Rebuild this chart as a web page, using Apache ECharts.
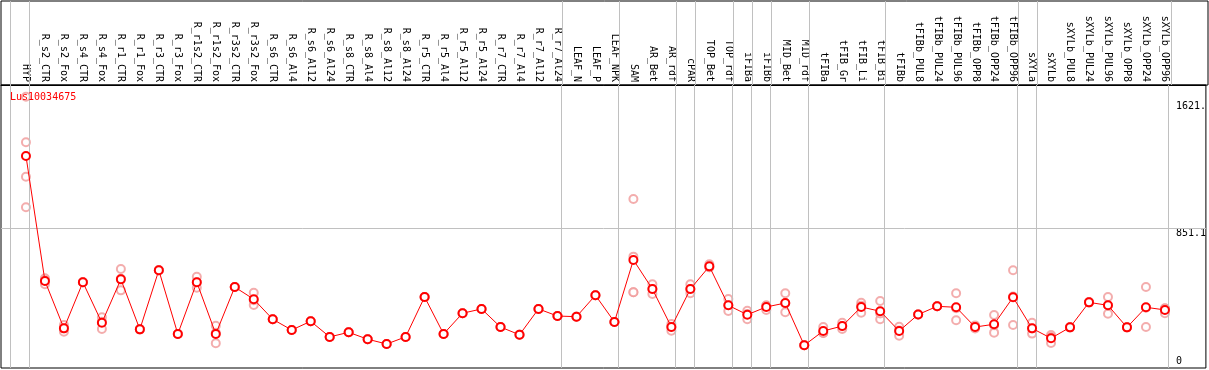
<!DOCTYPE html>
<html>
<head>
<meta charset="utf-8">
<script src="https://cdn.jsdelivr.net/npm/echarts@6/dist/echarts.min.js"></script>
<style>
html,body{margin:0;padding:0;background:#fff;}
#chart{width:1209px;height:370px;}
</style>
</head>
<body>
<div id="chart"></div>
<script>
const geneName = 'Lus10034675';
const categories = ['HYP','R_s2_CTR','R_s2_Fox','R_s4_CTR','R_s4_Fox','R_r1_CTR','R_r1_Fox','R_r3_CTR','R_r3_Fox','R_r1s2_CTR','R_r1s2_Fox','R_r3s2_CTR','R_r3s2_Fox','R_s6_CTR','R_s6_Al4','R_s6_Al12','R_s6_Al24','R_s8_CTR','R_s8_Al4','R_s8_Al12','R_s8_Al24','R_r5_CTR','R_r5_Al4','R_r5_Al12','R_r5_Al24','R_r7_CTR','R_r7_Al4','R_r7_Al12','R_r7_Al24','LEAF_N','LEAF_P','LEAF_NPK','SAM','AR_Bet','AR_rdf','cPAR','TOP_Bet','TOP_rdf','iFIBa','iFIBb','MID_Bet','MID_rdf','tFIBa','tFIB_Gr','tFIB_Li','tFIB_Bi','tFIBb','tFIBb_PUL8','tFIBb_PUL24','tFIBb_PUL96','tFIBb_OPP8','tFIBb_OPP24','tFIBb_OPP96','sXYLa','sXYLb','sXYLb_PUL8','sXYLb_PUL24','sXYLb_PUL96','sXYLb_OPP8','sXYLb_OPP24','sXYLb_OPP96'];
const meanValues = [1289,529,241,521,275,539,235,594,207,521,207,492,418,296,231,284,189,217,175,146,189,432,207,333,359,249,202,359,316,312,442,280,657,480,249,480,618,381,324,371,395,138,225,255,371,345,225,325,375,369,249,266,430,241,181,247,399,381,247,369,353];
const rep1 = [1649,545,261,521,308,602,235,594,207,555,257,492,458,296,231,284,189,217,175,146,189,432,207,333,359,249,202,359,316,312,442,280,1027,509,268,509,630,420,348,353,454,138,249,275,397,407,251,325,375,454,259,322,594,275,201,247,399,432,247,492,363];
const rep2 = [1372,509,221,521,237,472,235,594,207,488,150,492,383,296,231,284,189,217,175,146,189,432,207,333,359,249,202,359,316,312,442,280,677,450,227,454,612,347,296,380,339,138,213,237,336,296,196,325,375,290,240,215,261,209,152,247,399,330,247,249,333];
const rep3 = [1163,533,241,521,281,543,235,594,207,521,214,492,412,296,231,284,189,217,175,146,189,432,207,333,359,249,202,359,316,312,442,280,460,480,249,480,612,381,328,380,393,138,213,254,379,331,228,325,375,363,249,260,434,240,189,247,399,382,247,366,362];
const rep4 = [977,null,null,null,null,null,null,null,null,null,null,null,null,null,null,null,null,null,null,null,null,null,null,null,null,null,null,null,null,null,null,null,460,null,null,null,null,null,null,null,null,null,null,null,null,null,null,null,null,null,null,null,null,null,null,null,null,null,null,null,null];
const yTickValues = [851.1, 1621];
const yTickLabels = ['851.1', '1621.'];
const yZeroLabel = '0';
const gridLineValue = 851.1;
const groupStarts = [0,1,29,32,35,36,38,39,40,42,46,53,54,61];

const MONO = 'DejaVu Sans Mono';
const xMin = -1.3147, xMax = 62.158;
const yMax = 1720.5;

function pairs(arr){ return arr.map((v,i)=> v==null ? null : [i, v]).filter(d=>d); }

const sepLines = groupStarts.map(k => ({ xAxis: k - 0.805 }));

const repSeries = [rep1, rep2, rep3, rep4].map(r => ({
  type: 'scatter',
  data: pairs(r),
  symbol: 'emptyCircle',
  symbolSize: 8,
  itemStyle: { color: '#f09898', borderColor: '#f09898', borderWidth: 1.2 },
  z: 3,
  silent: true
}));

const chart = echarts.init(document.getElementById('chart'), null, {renderer: 'canvas'});
chart.setOption({
  animation: false,
  backgroundColor: '#ffffff',
  title: {
    text: geneName, left: 10, top: 92, padding: 0,
    textStyle: { color: '#ff0000', fontSize: 10, fontWeight: 'normal', fontFamily: MONO }
  },
  grid: [
    { left: 1, right: 1, top: 85, bottom: 2, show: true, borderColor: '#000', borderWidth: 1 },
    { left: 1, right: 1, top: 1, height: 84, show: true, borderColor: '#000', borderWidth: 1 }
  ],
  xAxis: [{
    gridIndex: 0,
    type: 'value', min: xMin, max: xMax, position: 'top',
    axisLine: { show: true, onZero: false, lineStyle: { color: '#000', width: 1 } },
    axisTick: { show: false }, splitLine: { show: false },
    axisLabel: {
      customValues: categories.map((c,i)=>i),
      formatter: v => categories[Math.round(v)],
      rotate: 90, margin: 3,
      color: '#000', fontSize: 10, fontFamily: MONO
    }
  }, {
    gridIndex: 1,
    type: 'value', min: xMin, max: xMax, show: false
  }],
  yAxis: [{
    gridIndex: 0,
    type: 'value', min: 0, max: yMax, position: 'right',
    axisLine: { show: false }, axisTick: { show: false }, splitLine: { show: false },
    axisLabel: {
      inside: true, margin: 30, align: 'left', verticalAlign: 'top',
      customValues: yTickValues,
      formatter: v => yTickLabels[yTickValues.indexOf(v)],
      color: '#000', fontSize: 10, fontFamily: MONO
    }
  }, {
    gridIndex: 0,
    type: 'value', min: 0, max: yMax, position: 'right',
    axisLine: { show: false }, axisTick: { show: false }, splitLine: { show: false },
    axisLabel: {
      inside: true, margin: 30, align: 'left', verticalAlign: 'bottom', padding: [0,0,2,0],
      customValues: [0],
      formatter: () => yZeroLabel,
      color: '#000', fontSize: 10, fontFamily: MONO
    }
  }, {
    gridIndex: 1, type: 'value', min: 0, max: 1, show: false
  }],
  series: [
    {
      type: 'line', data: [], silent: true, xAxisIndex: 0, yAxisIndex: 0,
      markLine: {
        silent: true, symbol: 'none', label: { show: false },
        lineStyle: { color: '#c0c0c0', type: 'solid', width: 1 },
        data: sepLines.concat([{ yAxis: gridLineValue }])
      },
      z: 1
    },
    {
      type: 'line', data: [], silent: true, xAxisIndex: 1, yAxisIndex: 2,
      markLine: {
        silent: true, symbol: 'none', label: { show: false },
        lineStyle: { color: '#c0c0c0', type: 'solid', width: 1 },
        data: sepLines
      },
      z: 1
    },
    ...repSeries,
    {
      type: 'line',
      data: pairs(meanValues),
      symbol: 'emptyCircle', symbolSize: 8, showAllSymbol: true,
      lineStyle: { color: '#ff0000', width: 1 },
      itemStyle: { color: '#ff0000', borderColor: '#ff0000', borderWidth: 1.5 },
      z: 5, silent: true
    }
  ]
});
</script>
</body>
</html>
